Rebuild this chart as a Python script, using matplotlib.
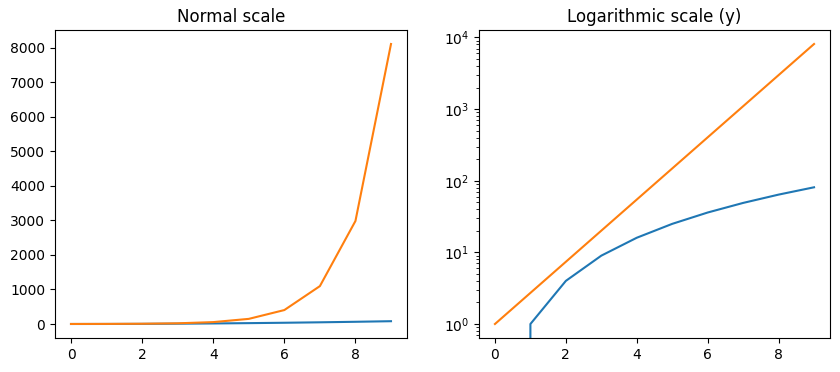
import matplotlib
matplotlib.use("Agg")
import matplotlib.pyplot as plt

x = [0, 1, 2, 3, 4, 5, 6, 7, 8, 9]
squares = [0, 1, 4, 9, 16, 25, 36, 49, 64, 81]
exps = [1.0, 2.718, 7.389, 20.09, 54.6, 148.4, 403.4, 1096.6, 2981.0, 8103.1]

fig = plt.figure(figsize=(8.4, 3.72), dpi=100)
ax1 = fig.add_axes([55/840, 34/372, 352/840, 308/372])
ax2 = fig.add_axes([479/840, 34/372, 351/840, 308/372])

ax1.plot(x, squares)
ax1.plot(x, exps)
ax1.set_title("Normal scale")

ax2.plot(x, squares)
ax2.plot(x, exps)
ax2.set_yscale("log")
ax2.set_title("Logarithmic scale (y)")

fig.savefig("out.png", dpi=100)
